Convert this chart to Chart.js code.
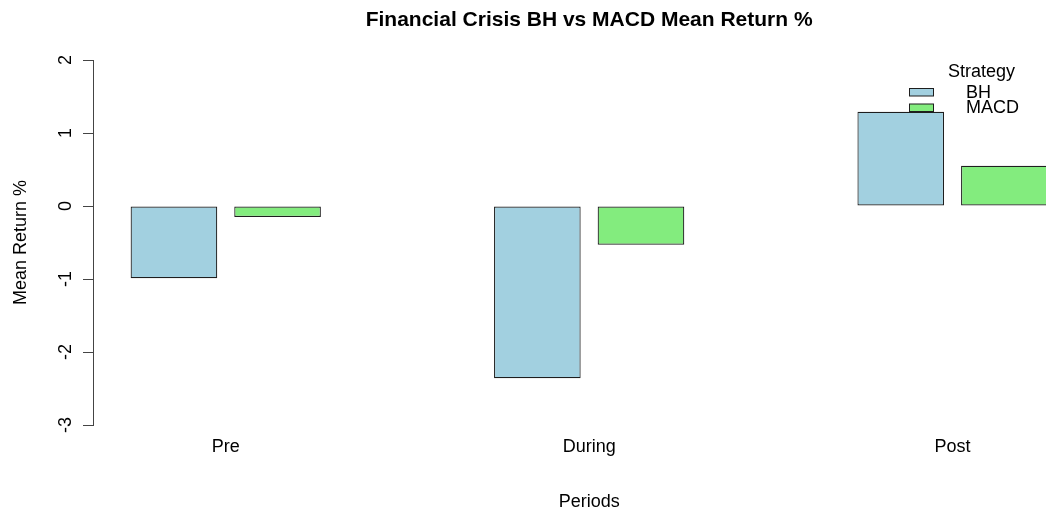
<!DOCTYPE html>
<html>
<head>
<meta charset="utf-8">
<title>Financial Crisis BH vs MACD Mean Return %</title>
<script src="https://cdn.jsdelivr.net/npm/chart.js@4.4.1/dist/chart.umd.min.js"></script>
<style>
    html, body { margin: 0; padding: 0; background: #fff; overflow: hidden; }
</style>
</head>
<body>
<canvas id="crisisChart" width="1046" height="515"></canvas>
<script>
// Data
const periods = ['Pre', 'During', 'Post'];
const bhReturns = [-0.99, -2.36, 1.29];
const macdReturns = [-0.15, -0.53, 0.55];
const yTicks = [-3, -2, -1, 0, 1, 2];

const FONT = 'Liberation Sans, Arial, Helvetica, sans-serif';
const AXIS_COLOR = '#444';
const BAR_EDGE = '#1e1e1e';

// R-style titles and legend, drawn on top of the chart
const rDecorations = {
    id: 'rDecorations',
    afterDraw(chart) {
        const ctx = chart.ctx;
        const x = chart.scales.x;
        const mid = x.getPixelForValue(1);

        ctx.save();
        ctx.fillStyle = '#000';
        ctx.textAlign = 'center';
        ctx.textBaseline = 'alphabetic';

        // Main title
        ctx.font = 'bold 21px ' + FONT;
        ctx.fillText('Financial Crisis BH vs MACD Mean Return %', mid, 26);

        // X axis title
        ctx.font = '18px ' + FONT;
        ctx.fillText('Periods', mid, 507);

        // Legend
        ctx.textAlign = 'left';
        ctx.fillText('Strategy', 948, 77);
        ctx.textBaseline = 'middle';
        const rows = [92, 107.5];
        chart.data.datasets.forEach((ds, i) => {
            const y = rows[i];
            ctx.fillStyle = ds.backgroundColor;
            ctx.fillRect(909, y - 3.5, 25, 7.5);
            ctx.strokeStyle = ds.borderColor;
            ctx.lineWidth = 1;
            ctx.strokeRect(909.5, y - 3.5, 24, 7.5);
            ctx.fillStyle = '#000';
            ctx.fillText(ds.label, 966, y + 1);
        });
        ctx.restore();
    }
};

const ctx = document.getElementById('crisisChart').getContext('2d');

new Chart(ctx, {
    type: 'bar',
    data: {
        datasets: [
            {
                label: 'BH',
                data: bhReturns.map((v, i) => ({ x: i, y: v })),
                backgroundColor: '#a2d0e0',
                borderColor: BAR_EDGE,
                borderWidth: 1.2,
                borderSkipped: false,
            },
            {
                label: 'MACD',
                data: macdReturns.map((v, i) => ({ x: i, y: v })),
                backgroundColor: '#83ec7e',
                borderColor: BAR_EDGE,
                borderWidth: 1.2,
                borderSkipped: false,
            },
        ],
    },
    options: {
        responsive: false,
        animation: false,
        devicePixelRatio: 1,
        categoryPercentage: 0.5703,
        barPercentage: 0.836,
        layout: {
            padding: { top: 60, left: 0, right: 0, bottom: 0 },
        },
        plugins: {
            legend: { display: false },
            tooltip: { enabled: false },
            title: { display: false },
        },
        scales: {
            x: {
                type: 'linear',
                offset: false,
                min: -0.3653,
                max: 2.2571,
                afterBuildTicks: (scale) => {
                    scale.ticks = periods.map((p, i) => ({ value: i }));
                },
                afterFit: (scale) => {
                    scale.height = 90;
                    scale.paddingLeft = 0;
                    scale.paddingRight = 0;
                },
                grid: { display: false, drawTicks: false },
                border: { display: false },
                ticks: {
                    color: '#000',
                    padding: 11,
                    maxRotation: 0,
                    font: { family: FONT, size: 18 },
                    callback: (value) => periods[value],
                },
            },
            y: {
                type: 'linear',
                min: -3,
                max: 2,
                afterBuildTicks: (scale) => {
                    scale.ticks = yTicks.map(v => ({ value: v }));
                },
                afterFit: (scale) => {
                    scale.width = 93;
                    scale.paddingTop = 0;
                    scale.paddingBottom = 0;
                },
                grid: {
                    drawOnChartArea: false,
                    tickLength: 10,
                    color: AXIS_COLOR,
                },
                border: { color: AXIS_COLOR },
                ticks: {
                    color: '#000',
                    minRotation: 90,
                    maxRotation: 90,
                    crossAlign: 'center',
                    padding: 9,
                    font: { family: FONT, size: 18 },
                },
                title: {
                    display: true,
                    text: 'Mean Return %',
                    color: '#000',
                    padding: { top: 10, bottom: 0 },
                    font: { family: FONT, size: 18 },
                },
            },
        },
    },
    plugins: [rDecorations],
});
</script>
</body>
</html>
